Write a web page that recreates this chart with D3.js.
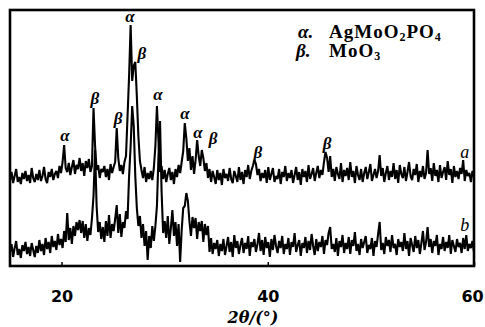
<!DOCTYPE html>
<html>
<head>
<meta charset="utf-8">
<script src="https://cdn.jsdelivr.net/npm/d3@7"></script>
<style>
  body { margin: 0; background: #fff; }
  svg { display: block; }
</style>
</head>
<body>
<svg id="chart" width="485" height="327"></svg>
<script>
// scan settings (2theta grid of the diffractometer)
var scanStart = 15, scanStep = 0.15;

// pattern a (upper curve, shown with its offset), a.u.
var patternA = [
  86, 94, 83, 90, 97, 84, 89, 82, 93, 87,
  95, 85, 91, 83, 98, 88, 84, 92, 86, 96,
  85, 90, 99, 87, 83, 94, 89, 97, 86, 92,
  95, 88, 100, 93, 104, 121, 98, 94, 103, 91,
  99, 106, 92, 101, 97, 108, 95, 103, 90, 105,
  98, 107, 94, 100, 158, 120, 96, 101, 88, 97,
  94, 100, 89, 97, 86, 102, 93, 99, 104, 138,
  108, 95, 101, 92, 104, 110, 150, 190, 241, 185,
  200, 204, 170, 130, 105, 96, 88, 99, 84, 93,
  87, 95, 86, 98, 120, 160, 125, 94, 100, 87,
  96, 84, 92, 98, 86, 94, 82, 97, 89, 101,
  93, 104, 115, 143, 128, 105, 118, 96, 110, 92,
  106, 126, 110, 100, 116, 108, 95, 103, 88, 97,
  84, 95, 89, 82, 96, 86, 93, 81, 97, 88,
  92, 85, 98, 87, 83, 95, 90, 84, 99, 86,
  94, 82, 96, 89, 101, 87, 95, 100, 106, 102,
  91, 97, 85, 93, 88, 96, 83, 99, 86, 92,
  98, 84, 90, 87, 97, 82, 94, 89, 100, 85,
  93, 88, 96, 83, 91, 99, 86, 94, 81, 97,
  89, 95, 84, 101, 87, 92, 98, 85, 93, 100,
  88, 96, 91, 104, 114, 108, 94, 110, 89, 97,
  85, 99, 92, 87, 103, 84, 96, 90, 98, 86,
  104, 89, 95, 83, 100, 91, 86, 97, 84, 93,
  99, 87, 94, 102, 85, 91, 97, 88, 95, 111,
  90, 98, 84, 93, 100, 86, 95, 89, 103, 87,
  96, 83, 101, 92, 88, 99, 85, 94, 104, 90,
  86, 97, 91, 102, 84, 95, 89, 100, 87, 93,
  116, 92, 98, 85, 103, 90, 96, 84, 101, 88,
  94, 99, 86, 105, 91, 97, 83, 100, 89, 95,
  87, 98, 92, 106, 85, 96, 90, 93, 84, 95, 89
];

// pattern b (lower curve), a.u.
var patternB = [
  14, 22, 9, 18, 25, 11, 17, 8, 21, 15,
  24, 12, 19, 10, 23, 16, 9, 20, 13, 26,
  15, 22, 11, 28, 17, 24, 13, 30, 19, 25,
  16, 32, 21, 27, 18, 35, 24, 53, 26, 38,
  22, 40, 30, 44, 36, 46, 33, 45, 28, 42,
  25, 38, 31, 48, 70, 116, 60, 34, 44, 27,
  39, 24, 45, 30, 51, 28, 42, 35, 47, 61,
  33, 52, 29, 44, 38, 55, 47, 90, 120, 160,
  140, 90, 58, 40, 50, 28, 42, 20, 35, 6,
  30, 18, 40, 25, 40, 60, 110, 145, 75, 33,
  45, 28, 50, 22, 38, 56, 30, 44, 20, 42,
  4, 36, 58, 60, 73, 65, 45, 30, 49, 38,
  48, 27, 44, 35, 45, 24, 42, 31, 40, 14,
  28, 12, 23, 17, 26, 10, 22, 15, 27, 11,
  20, 29, 14, 24, 9, 31, 18, 25, 12, 21,
  28, 13, 23, 17, 30, 10, 24, 19, 27, 14,
  22, 33, 15, 26, 11, 29, 18, 24, 9, 27,
  16, 31, 20, 13, 25, 18, 30, 12, 22, 17,
  28, 11, 24, 19, 33, 14, 21, 26, 10, 23,
  18, 29, 13, 25, 16, 32, 20, 11, 27, 15,
  24, 19, 30, 12, 26, 21, 33, 39, 17, 22,
  14, 28, 10, 25, 19, 31, 13, 23, 17, 29,
  12, 26, 20, 34, 15, 22, 11, 27, 18, 24,
  30, 13, 21, 17, 28, 10, 25, 19, 32, 44,
  16, 23, 12, 29, 20, 26, 14, 31, 18, 22,
  11, 27, 19, 24, 15, 33, 17, 25, 10, 28,
  21, 14, 30, 18, 26, 12, 23, 35, 16, 24,
  39, 19, 27, 13, 25, 20, 31, 11, 22, 17,
  29, 15, 24, 18, 31, 12, 26, 20, 14, 27,
  19, 23, 13, 28, 17, 31, 15, 22, 18, 25, 14
];

// phase marks over the peaks
var markSymbols = ["α", "β", "β", "α", "β", "α", "α", "α", "β", "β", "β"];
var markAngles  = [20.33, 23.24, 25.48, 26.64, 27.8, 29.36, 31.97, 33.24, 34.69, 39.05, 45.75];
var markLevels  = [131, 168, 148, 250, 213, 172, 153, 134, 128, 114, 123];

var xTicks = [20, 40, 60];
var curveNames = ["a", "b"];
var curveNameLevels = [114, 41];

var svg = d3.select("#chart");
var plotLeft = 10, plotRight = 474, plotTop = 10, plotBottom = 266;

var x = d3.scaleLinear().domain([15, 60]).range([plotLeft, plotRight]);
var y = d3.scaleLinear().domain([0, 256]).range([plotBottom, plotTop]);

var line = d3.line()
    .x(function (d, i) { return x(scanStart + i * scanStep); })
    .y(function (d) { return y(d); });

[patternA, patternB].forEach(function (p) {
    svg.append("path")
        .datum(p)
        .attr("d", line)
        .attr("fill", "none")
        .attr("stroke", "#000")
        .attr("stroke-width", 2.1)
        .attr("stroke-linejoin", "bevel");
});

// frame
svg.append("rect")
    .attr("x", plotLeft).attr("y", plotTop)
    .attr("width", plotRight - plotLeft).attr("height", plotBottom - plotTop)
    .attr("fill", "none")
    .attr("stroke", "#000")
    .attr("stroke-width", 2.6);

// x axis (inward ticks)
var xAxis = svg.append("g")
    .attr("transform", "translate(0," + plotBottom + ")")
    .call(d3.axisBottom(x).tickValues(xTicks).tickSize(-4).tickFormat(d3.format("d")));
xAxis.select(".domain").remove();
xAxis.selectAll(".tick line").attr("stroke", "#000").attr("stroke-width", 1.5);
xAxis.selectAll(".tick text")
    .attr("y", 36).attr("dy", 0)
    .attr("fill", "#000")
    .style("font-family", "'DejaVu Sans', sans-serif")
    .style("font-weight", "bold")
    .style("font-size", "16px");
xAxis.selectAll(".tick text").filter(function (d) { return d === 60; })
    .attr("x", -2);

svg.append("text")
    .attr("x", 253).attr("y", 323)
    .attr("text-anchor", "middle")
    .style("font-family", "'DejaVu Serif', serif")
    .style("font-style", "italic")
    .style("font-weight", "bold")
    .style("font-size", "16px")
    .text("2θ/(°)");

// phase marks
svg.append("g")
    .selectAll("text")
    .data(markSymbols)
    .enter()
    .append("text")
    .attr("x", function (d, i) { return x(markAngles[i]); })
    .attr("y", function (d, i) { return y(markLevels[i]); })
    .attr("text-anchor", "middle")
    .attr("dominant-baseline", "central")
    .style("font-family", "'Liberation Serif', serif")
    .style("font-style", "italic")
    .style("font-weight", "bold")
    .style("font-size", "17px")
    .text(function (d) { return d; });

// curve names
svg.append("g")
    .selectAll("text")
    .data(curveNames)
    .enter()
    .append("text")
    .attr("x", x(59.1))
    .attr("y", function (d, i) { return y(curveNameLevels[i]); })
    .attr("text-anchor", "middle")
    .attr("dominant-baseline", "central")
    .style("font-family", "'Liberation Serif', serif")
    .style("font-style", "italic")
    .style("font-size", "18px")
    .text(function (d) { return d; });

// legend
var legend = svg.append("g")
    .style("font-family", "'Liberation Serif', serif")
    .style("font-weight", "bold")
    .style("font-size", "19px");

legend.append("text").attr("x", 298).attr("y", 38)
    .style("font-style", "italic").text("α.");
legend.append("text").attr("x", 296).attr("y", 57)
    .style("font-style", "italic").text("β.");

var l1 = legend.append("text").attr("x", 329).attr("y", 38)
    .style("letter-spacing", "1px");
l1.append("tspan").text("AgMoO");
l1.append("tspan").attr("dy", 3).style("font-size", "12px").text("2");
l1.append("tspan").attr("dy", -3).text("PO");
l1.append("tspan").attr("dy", 3).style("font-size", "12px").text("4");

var l2 = legend.append("text").attr("x", 329).attr("y", 57)
    .style("letter-spacing", "1px");
l2.append("tspan").text("MoO");
l2.append("tspan").attr("dy", 3).style("font-size", "12px").text("3");
</script>
</body>
</html>
